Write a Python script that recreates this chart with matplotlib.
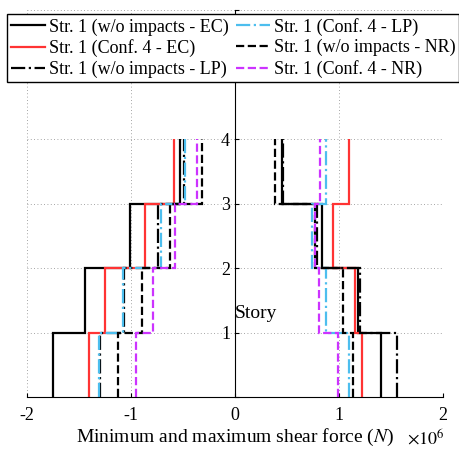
import matplotlib as mpl
mpl.use('Agg')
import matplotlib.pyplot as plt
from matplotlib.lines import Line2D
import numpy as np

plt.rcParams['font.family'] = 'Liberation Serif'
plt.rcParams['mathtext.fontset'] = 'stix'
plt.rcParams['axes.unicode_minus'] = False

# story edges and values (x 10^6 N), one value per story 1..4
stories = [0, 1, 2, 3, 4]

labels = ["Str. 1 (w/o impacts - EC)", "Str. 1 (Conf. 4 - EC)",
          "Str. 1 (w/o impacts - LP)", "Str. 1 (Conf. 4 - LP)",
          "Str. 1 (w/o impacts - NR)", "Str. 1 (Conf. 4 - NR)"]

ec_wo_min = [-1.75, -1.44, -1.005, -0.524]
ec_wo_max = [1.40, 1.18, 0.84, 0.45]
ec_c4_min = [-1.407, -1.248, -0.870, -0.582]
ec_c4_max = [1.22, 1.156, 0.945, 1.097]
lp_wo_min = [-1.30, -1.065, -0.745, -0.495]
lp_wo_max = [1.556, 1.205, 0.787, 0.466]
lp_c4_min = [-1.305, -1.072, -0.708, -0.476]
lp_c4_max = [1.092, 0.877, 0.739, 0.877]
nr_wo_min = [-1.125, -0.896, -0.623, -0.316]
nr_wo_max = [1.133, 1.043, 0.772, 0.380]
nr_c4_min = [-0.95, -0.79, -0.580, -0.364]
nr_c4_max = [0.99, 0.81, 0.766, 0.815]

series = [(ec_wo_min, ec_wo_max), (ec_c4_min, ec_c4_max),
          (lp_wo_min, lp_wo_max), (lp_c4_min, lp_c4_max),
          (nr_wo_min, nr_wo_max), (nr_c4_min, nr_c4_max)]
colors = ['black', '#FF3333', 'black', '#4DBEEE', 'black', '#CC33FF']
styles = ['-', '-', '-.', '-.', '--', '--']

fig = plt.figure(figsize=(4.59, 4.5), dpi=100)
ax = fig.add_axes([0.0588, 0.1167, 0.9063, 0.8611])

for idx, (vmin, vmax) in enumerate(series):
    ax.stairs(vmin, stories, orientation='horizontal', baseline=None,
              color=colors[idx], linestyle=styles[idx], lw=1.6)
    ax.stairs(vmax, stories, orientation='horizontal', baseline=None,
              color=colors[idx], linestyle=styles[idx], lw=1.6)

ax.set_xlim(-2, 2)
ax.set_ylim(0, 6)
ax.set_xticks([-2, -1, 0, 1, 2])
ax.set_yticks([0, 1, 2, 3, 4, 5, 6])
ax.set_yticklabels(['', '1', '2', '3', '4', '', ''])
ax.spines['left'].set_position(('data', 0))
ax.spines['top'].set_visible(False)
ax.spines['right'].set_visible(False)
ax.tick_params(direction='in', labelsize=13, length=3)
ax.tick_params(axis='x', pad=7)
ax.grid(True, linestyle=(0, (1, 3)), color='#888888', lw=0.6)
ax.set_axisbelow(True)

ax.set_xlabel('Minimum and maximum shear force ($N$)', fontsize=14, labelpad=2)
ax.text(0.0, 1.30, 'Story', fontsize=14, ha='left', va='center')
fig.text(407 / 459, 1 - 438 / 450, r'$\times10^6$', fontsize=13, ha='left', va='center')

leg_handles = [Line2D([], [], color=colors[i], linestyle=styles[i], lw=1.6) for i in range(6)]
fig.legend(leg_handles, labels, ncol=2, loc='upper left',
           bbox_to_anchor=(7 / 459, 1 - 14 / 450), fontsize=13,
           frameon=True, fancybox=False, edgecolor='black', framealpha=1,
           handlelength=1.9, handletextpad=0.22, columnspacing=0.4,
           labelspacing=0.2, borderpad=0.2, borderaxespad=0)

fig.savefig('out.png')
